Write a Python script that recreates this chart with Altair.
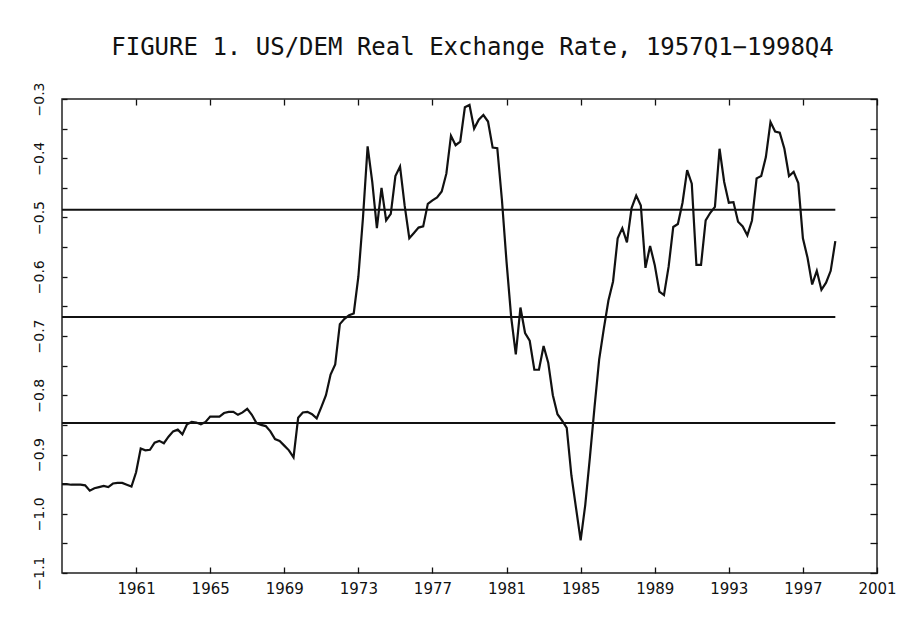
import altair as alt
import pandas as pd

# Quarterly US/DEM real exchange rate, 1957Q1 - 1998Q4
start_year = 1957
rate = [
    -0.950, -0.950, -0.951, -0.951,   # 1957
    -0.951, -0.952, -0.961, -0.957,   # 1958
    -0.955, -0.953, -0.955, -0.949,   # 1959
    -0.948, -0.948, -0.951, -0.954,   # 1960
    -0.930, -0.890, -0.893, -0.892,   # 1961
    -0.880, -0.877, -0.881, -0.870,   # 1962
    -0.861, -0.858, -0.866, -0.849,   # 1963
    -0.845, -0.846, -0.849, -0.845,   # 1964
    -0.836, -0.836, -0.836, -0.830,   # 1965
    -0.828, -0.828, -0.833, -0.829,   # 1966
    -0.823, -0.833, -0.847, -0.850,   # 1967
    -0.852, -0.861, -0.874, -0.877,   # 1968
    -0.885, -0.893, -0.905, -0.838,   # 1969
    -0.829, -0.828, -0.832, -0.839,   # 1970
    -0.820, -0.800, -0.765, -0.748,   # 1971
    -0.680, -0.671, -0.665, -0.662,   # 1972
    -0.600, -0.500, -0.380, -0.440,   # 1973
    -0.518, -0.450, -0.505, -0.494,   # 1974
    -0.430, -0.414, -0.480, -0.535,   # 1975
    -0.526, -0.517, -0.515, -0.477,   # 1976
    -0.471, -0.466, -0.456, -0.426,   # 1977
    -0.362, -0.378, -0.372, -0.314,   # 1978
    -0.310, -0.350, -0.335, -0.327,   # 1979
    -0.338, -0.382, -0.383, -0.470,   # 1980
    -0.575, -0.668, -0.731, -0.652,   # 1981
    -0.695, -0.708, -0.757, -0.757,   # 1982
    -0.717, -0.745, -0.800, -0.832,   # 1983
    -0.843, -0.855, -0.935, -0.990,   # 1984
    -1.045, -0.985, -0.905, -0.820,   # 1985
    -0.740, -0.688, -0.640, -0.608,   # 1986
    -0.535, -0.518, -0.542, -0.484,   # 1987
    -0.463, -0.480, -0.585, -0.548,   # 1988
    -0.580, -0.625, -0.631, -0.583,   # 1989
    -0.516, -0.511, -0.475, -0.420,   # 1990
    -0.443, -0.580, -0.580, -0.505,   # 1991
    -0.492, -0.482, -0.384, -0.440,   # 1992
    -0.475, -0.474, -0.507, -0.515,   # 1993
    -0.530, -0.505, -0.434, -0.430,   # 1994
    -0.398, -0.339, -0.355, -0.357,   # 1995
    -0.384, -0.430, -0.423, -0.442,   # 1996
    -0.535, -0.568, -0.613, -0.590,   # 1997
    -0.622, -0.610, -0.590, -0.540,   # 1998
]
quarter_pos = [start_year + i / 4 for i in range(len(rate))]

# Horizontal reference lines
levels = [-0.487, -0.668, -0.847]
line_start = [1957.0, 1957.0, 1957.0]
line_end = [1998.75, 1998.75, 1998.75]

x_ticks = [1961, 1965, 1969, 1973, 1977, 1981, 1985, 1989, 1993, 1997, 2001]
y_ticks = [-1.1, -1.05, -1.0, -0.95, -0.9, -0.85, -0.8, -0.75, -0.7, -0.65,
           -0.6, -0.55, -0.5, -0.45, -0.4, -0.35, -0.3]

df = pd.DataFrame({"t": quarter_pos, "rate": rate})
bands = pd.DataFrame({"level": levels, "start": line_start, "end": line_end})

FONT = "DejaVu Sans"
x_scale = alt.Scale(domain=[1957, 2001], nice=False, zero=False)
y_scale = alt.Scale(domain=[-1.1, -0.3], nice=False, zero=False)

common = dict(title=None, domain=False, grid=False, tickColor="#111",
              tickWidth=1.3, labelColor="#111", labelFont=FONT,
              labelOverlap=False, labelBound=False, labelFlush=False)

x_bottom = alt.Axis(orient="bottom", values=x_ticks, format="d", offset=-6,
                    tickSize=6, labelPadding=8, labelFontSize=15, **common)
x_top = alt.Axis(orient="top", values=x_ticks, labels=False, offset=-6,
                 tickSize=6, **common)
y_left = alt.Axis(orient="left", values=y_ticks, offset=-5, tickSize=5,
                  labelExpr="abs(datum.value*10 - round(datum.value*10)) < 0.001 ? format(datum.value, '.1f') : ''",
                  labelAngle=270, labelAlign="center", labelBaseline="bottom",
                  labelPadding=16, labelFontSize=14, **common)
y_right = alt.Axis(orient="right", values=y_ticks, labels=False, offset=-7,
                   tickSize=7, **common)

series = alt.Chart(df).mark_line(color="#111", strokeWidth=2.2).encode(
    x=alt.X("t:Q", scale=x_scale, axis=x_bottom),
    y=alt.Y("rate:Q", scale=y_scale, axis=y_left),
)

rules = alt.Chart(bands).mark_rule(color="#111", strokeWidth=2).encode(
    x=alt.X("start:Q", scale=x_scale, axis=x_top),
    x2="end:Q",
    y=alt.Y("level:Q", scale=y_scale, axis=y_right),
)

chart = (
    alt.layer(series, rules)
    .resolve_axis(x="independent", y="independent")
    .properties(
        width=815,
        height=474,
        autosize="none",
        padding={"left": 54, "top": 91, "right": 21, "bottom": 45},
        background="white",
        title=alt.Title(
            "FIGURE 1. US/DEM Real Exchange Rate, 1957Q1−1998Q4",
            font="DejaVu Sans Mono", fontSize=24, fontWeight="normal",
            color="#111", anchor="middle", offset=22, dx=3,
        ),
    )
    .configure_view(stroke="#222", strokeWidth=1.5)
)

chart.save("out.html", embed_options={"renderer": "svg", "actions": False})
